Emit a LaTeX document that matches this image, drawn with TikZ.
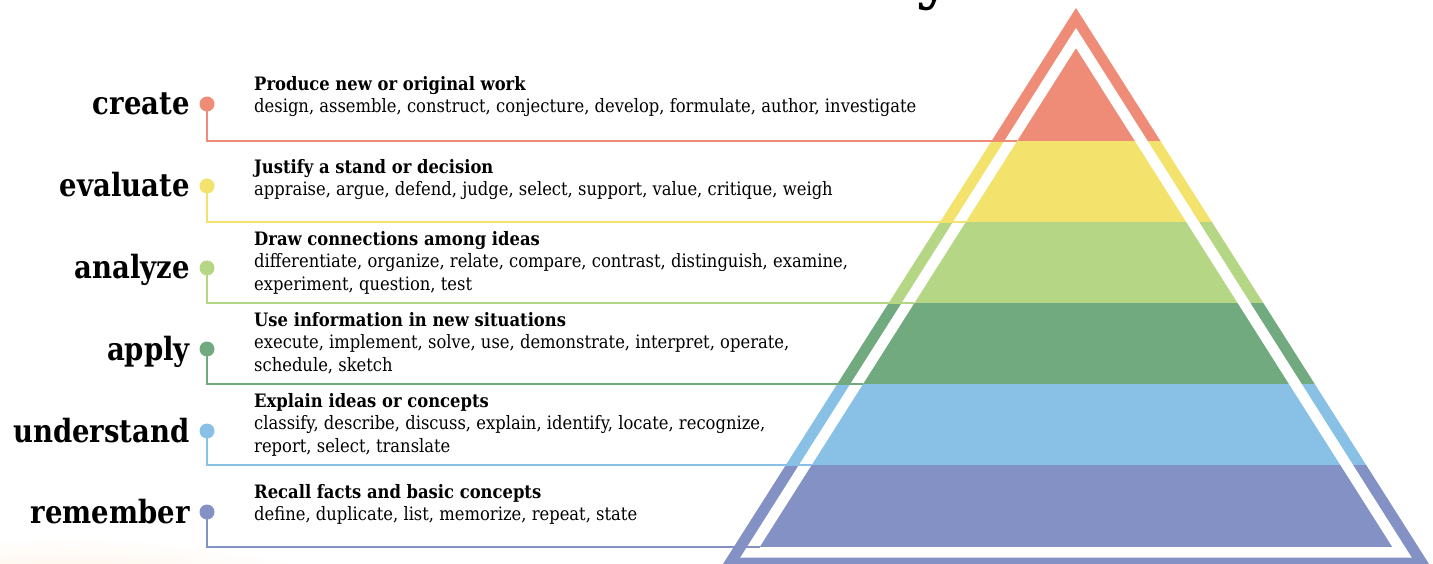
\documentclass[tikz,border=0pt]{standalone}
\usepackage{fontspec}
\setmainfont{DejaVu Serif}
\newfontfamily\bodyfont{DejaVu Serif}[FakeStretch=0.885,BoldFont=DejaVu Serif Bold]
\newfontfamily\levelfont{DejaVu Serif}[FakeStretch=0.86,BoldFont=DejaVu Serif Bold]
\usetikzlibrary{positioning}

\definecolor{createC}{RGB}{239,140,120}
\definecolor{evaluateC}{RGB}{243,226,107}
\definecolor{analyzeC}{RGB}{181,215,133}
\definecolor{applyC}{RGB}{114,170,127}
\definecolor{understandC}{RGB}{137,192,230}
\definecolor{rememberC}{RGB}{132,145,196}

\begin{document}
\begin{tikzpicture}[x=1pt,y=-1pt,
      level/.style={anchor=base east,inner sep=0pt,font=\levelfont\bfseries\fontsize{32}{32}\selectfont},
      dot/.style={circle,minimum size=15pt,inner sep=0pt},
      desc/.style={anchor=north west,align=left,inner sep=0pt,font=\bodyfont\fontsize{18.5}{22.5}\selectfont},
      link/.style={line width=2pt},
    ]
    \useasboundingbox (0,0) rectangle (1433,564);
    \clip (0,0) rectangle (1433,564);
    % soft glow, bottom left
    \shade[inner color=orange!16,outer color=white] (70,612) ellipse (300 and 75);
    % title, cut off at the top
    \node[anchor=base,inner sep=0pt,font=\bfseries\fontsize{60}{60}\selectfont] (title) at (934,-2) {y};

    % pyramid bands
    \begin{scope}
        \clip (1076,8) -- (716,575) -- (1436,575) -- cycle;
        \fill[createC] (700,0) rectangle (1433,141);
        \fill[evaluateC] (700,141) rectangle (1433,222);
        \fill[analyzeC] (700,222) rectangle (1433,303);
        \fill[applyC] (700,303) rectangle (1433,384);
        \fill[understandC] (700,384) rectangle (1433,465);
        \fill[rememberC] (700,465) rectangle (1433,575);
    \end{scope}
    % white frame
    \fill[white,even odd rule] (1076,28) -- (740.2,557.7) -- (1411.8,557.7) -- cycle
        (1076,48) -- (759.6,547) -- (1392.4,547) -- cycle;

    % create
    \node[level] (create) at (190,115) {create};
    \node[dot,fill=createC] (create-dot) at (207,104) {};
    \node[desc] (create-text) at (254,76) {\textbf{Produce new or original work}\\
        design, assemble, construct, conjecture, develop, formulate, author, investigate};
    \coordinate (create-end) at (1017,141);
    \draw[link,createC] (create-dot.center) |- (create-end);

    % evaluate
    \node[level] (evaluate) at (190,197) {evaluate};
    \node[dot,fill=evaluateC] (evaluate-dot) at (207,186) {};
    \node[desc] (evaluate-text) at (254,159) {\textbf{Justify a stand or decision}\\
        appraise, argue, defend, judge, select, support, value, critique, weigh};
    \coordinate (evaluate-end) at (965.7,222);
    \draw[link,evaluateC] (evaluate-dot.center) |- (evaluate-end);

    % analyze
    \node[level] (analyze) at (190,279) {analyze};
    \node[dot,fill=analyzeC] (analyze-dot) at (207,268) {};
    \node[desc] (analyze-text) at (254,231) {\textbf{Draw connections among ideas}\\
        differentiate, organize, relate, compare, contrast, distinguish, examine,\\
        experiment, question, test};
    \coordinate (analyze-end) at (914.3,303);
    \draw[link,analyzeC] (analyze-dot.center) |- (analyze-end);

    % apply
    \node[level] (apply) at (190,360) {apply};
    \node[dot,fill=applyC] (apply-dot) at (207,349) {};
    \node[desc] (apply-text) at (254,312) {\textbf{Use information in new situations}\\
        execute, implement, solve, use, demonstrate, interpret, operate,\\
        schedule, sketch};
    \coordinate (apply-end) at (863,384);
    \draw[link,applyC] (apply-dot.center) |- (apply-end);

    % understand
    \node[level] (understand) at (190,442) {understand};
    \node[dot,fill=understandC] (understand-dot) at (207,431) {};
    \node[desc] (understand-text) at (254,393) {\textbf{Explain ideas or concepts}\\
        classify, describe, discuss, explain, identify, locate, recognize,\\
        report, select, translate};
    \coordinate (understand-end) at (811.6,465);
    \draw[link,understandC] (understand-dot.center) |- (understand-end);

    % remember
    \node[level] (remember) at (190,523) {remember};
    \node[dot,fill=rememberC] (remember-dot) at (207,512) {};
    \node[desc] (remember-text) at (254,484) {\textbf{Recall facts and basic concepts}\\
        define, duplicate, list, memorize, repeat, state};
    \coordinate (remember-end) at (759.6,547);
    \draw[link,rememberC] (remember-dot.center) |- (remember-end);
\end{tikzpicture}
\end{document}
